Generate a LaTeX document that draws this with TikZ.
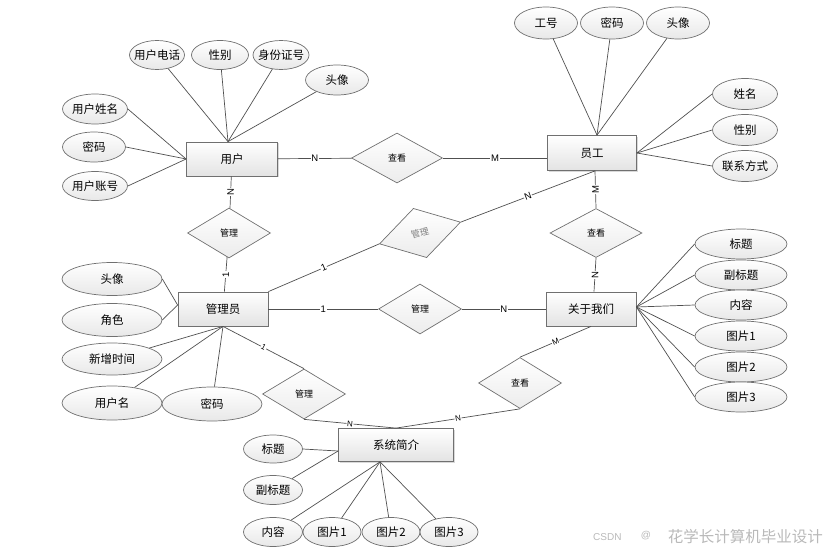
\documentclass[tikz,border=0pt]{standalone}
\usepackage{fontspec}
\setmainfont{Noto Sans CJK SC}
\newfontfamily\lat{Liberation Sans}
\usetikzlibrary{shapes.geometric,shadows}
\newcommand\zt[1]{\makebox[0pt]{#1}}
\definecolor{bd}{HTML}{707070}
\definecolor{ln}{HTML}{505050}
\begin{document}
\begin{tikzpicture}[x=1pt,y=-1pt,
  ent/.style={rectangle, draw=bd, line width=0.8pt, top color=white, bottom color=gray!22,
    drop shadow={shadow xshift=1.2pt, shadow yshift=-1.2pt, opacity=0.3}, inner sep=0,
    font=\fontsize{11.5}{13}\selectfont},
  attr/.style={ellipse, draw=bd, line width=0.7pt, top color=white, bottom color=gray!18,
    inner sep=0, font=\fontsize{11.5}{13}\selectfont},
  rel/.style={diamond, draw=bd, line width=0.7pt, top color=white, bottom color=gray!15,
    inner sep=0, font=\fontsize{9}{10}\selectfont},
  conn/.style={draw=ln, line width=0.7pt},
  lbl/.style={fill=white, inner sep=0.6pt, font=\lat\fontsize{9.5}{10}\selectfont, text=black},
  slbl/.style={lbl, font=\lat\fontsize{8}{9}\selectfont}]
\useasboundingbox (0,0) rectangle (835,554);

% entities
\node[ent, minimum width=91, minimum height=34] (u) at (232,159) {用户};
\node[ent, minimum width=89, minimum height=35] (emp) at (592,153) {员工};
\node[ent, minimum width=90, minimum height=34] (mgr) at (223,309) {管理员};
\node[ent, minimum width=90, minimum height=34] (about) at (591,309) {关于我们};
\node[ent, minimum width=115, minimum height=33] (sys) at (396,445) {系统简介};

% relations
\node[rel, minimum width=91, minimum height=50] (r1) at (397,158) {查看};
\node[rel, minimum width=83, minimum height=50] (m1) at (229,233) {管理};
\node[rel, rotate=15, text=gray, minimum width=84, minimum height=51] (tilt) at (420,233) {管理};
\node[rel, minimum width=92, minimum height=49] (r2) at (596,233) {查看};
\node[rel, minimum width=83, minimum height=50] (m3) at (420,309) {管理};
\node[rel, minimum width=83, minimum height=50] (m4) at (304,394) {管理};
\node[rel, minimum width=83, minimum height=51] (r3) at (520,383) {查看};

% user attributes
\node[attr, minimum width=55, minimum height=29] (ua1) at (157,55) {\zt{用户电话}};
\node[attr, minimum width=57, minimum height=29] (ua2) at (220,55) {\zt{性别}};
\node[attr, minimum width=56, minimum height=29] (ua3) at (281,55) {\zt{身份证号}};
\node[attr, minimum width=63, minimum height=30] (ua4) at (337,80) {\zt{头像}};
\node[attr, minimum width=65, minimum height=30] (ua5) at (95,109) {\zt{用户姓名}};
\node[attr, minimum width=63, minimum height=30] (ua6) at (94,147) {\zt{密码}};
\node[attr, minimum width=65, minimum height=29] (ua7) at (95,186) {\zt{用户账号}};

% employee attributes
\node[attr, minimum width=63, minimum height=32] (ea1) at (546,23) {\zt{工号}};
\node[attr, minimum width=63, minimum height=32] (ea2) at (612,23) {\zt{密码}};
\node[attr, minimum width=63, minimum height=32] (ea3) at (678,23) {\zt{头像}};
\node[attr, minimum width=65, minimum height=31] (ea4) at (745,94) {\zt{姓名}};
\node[attr, minimum width=65, minimum height=31] (ea5) at (745,130) {\zt{性别}};
\node[attr, minimum width=65, minimum height=31] (ea6) at (745,166) {\zt{联系方式}};

% admin attributes
\node[attr, minimum width=100, minimum height=33] (ma1) at (112,279) {\zt{头像}};
\node[attr, minimum width=100, minimum height=33] (ma2) at (112,320) {\zt{角色}};
\node[attr, minimum width=100, minimum height=32] (ma3) at (112,359) {\zt{新增时间}};
\node[attr, minimum width=100, minimum height=34] (ma4) at (112,403) {\zt{用户名}};
\node[attr, minimum width=100, minimum height=34] (ma5) at (212,404) {\zt{密码}};

% about attributes
\node[attr, minimum width=92, minimum height=30] (aa1) at (741,244) {\zt{标题}};
\node[attr, minimum width=92, minimum height=30] (aa2) at (741,275) {\zt{副标题}};
\node[attr, minimum width=92, minimum height=30] (aa3) at (741,305) {\zt{内容}};
\node[attr, minimum width=92, minimum height=30] (aa4) at (741,336) {\zt{图片1}};
\node[attr, minimum width=92, minimum height=30] (aa5) at (741,367) {\zt{图片2}};
\node[attr, minimum width=92, minimum height=30] (aa6) at (741,397) {\zt{图片3}};

% system attributes
\node[attr, minimum width=59, minimum height=28] (sa1) at (273,449) {\zt{标题}};
\node[attr, minimum width=59, minimum height=29] (sa2) at (273,490) {\zt{副标题}};
\node[attr, minimum width=59, minimum height=29] (sa3) at (273,532) {\zt{内容}};
\node[attr, minimum width=58, minimum height=29] (sa4) at (332,532) {\zt{图片1}};
\node[attr, minimum width=58, minimum height=29] (sa5) at (391,532) {\zt{图片2}};
\node[attr, minimum width=58, minimum height=29] (sa6) at (449,532) {\zt{图片3}};

% attribute connectors
\foreach \a in {ua1,ua2,ua3,ua4} \draw[conn] (\a) -- ([xshift=-4pt]u.north);
\foreach \a in {ua5,ua6,ua7} \draw[conn] (\a.east) -- (u.west);
\foreach \a in {ea1,ea2,ea3} \draw[conn] (\a) -- ([xshift=5pt]emp.north);
\foreach \a in {ea4,ea5,ea6} \draw[conn] (\a.west) -- (emp.east);
\foreach \a in {ma1,ma2} \draw[conn] (\a.east) -- ([yshift=4pt]mgr.west);
\foreach \a in {ma3,ma4,ma5} \draw[conn] (\a) -- (mgr.south);
\foreach \a in {aa1,aa2,aa3,aa4,aa5,aa6} \draw[conn] (\a.west) -- ([yshift=2pt]about.east);
\draw[conn] (sa1.east) -- ([yshift=-6pt]sys.west);
\draw[conn] (sa2) -- ([yshift=-6pt]sys.west);
\foreach \a in {sa3,sa4,sa5,sa6} \draw[conn] (\a) -- ([xshift=-16pt]sys.south);

% relationship connectors
\draw[conn] (u) -- node[lbl]{N} (r1);
\draw[conn] (r1.east) -- node[lbl]{M} (r1.east -| emp.west);
\draw[conn] (u) -- node[lbl, rotate=90]{N} (m1);
\draw[conn] (m1) -- node[lbl, rotate=90]{1} (mgr);
\draw[conn] (mgr.north east) -- node[lbl, sloped]{1} (tilt.west);
\draw[conn] (tilt.east) -- node[lbl, sloped]{N} ([xshift=3pt]emp.south);
\draw[conn] ([xshift=3pt]emp.south) -- node[lbl, rotate=90]{M} (r2.north);
\draw[conn] (r2.south) -- node[lbl, rotate=90]{N} ([xshift=3pt]about.north);
\draw[conn] (mgr) -- node[lbl]{1} (m3);
\draw[conn] (m3) -- node[lbl]{N} (about);
\draw[conn] (mgr.south) -- node[slbl, sloped]{1} (m4.north);
\draw[conn] (m4.south) -- node[slbl, sloped]{N} (sys.north);
\draw[conn] (sys.north) -- node[slbl, sloped]{N} (r3.south);
\draw[conn] (r3.north) -- node[slbl, sloped]{M} (about.south);

% watermark
\node[anchor=west, text=gray!55, inner sep=0, font=\lat\fontsize{10}{12}\selectfont] (wm1) at (593,537) {CSDN};
\node[text=gray!55, inner sep=0, font=\lat\fontsize{10}{12}\selectfont] (wm2) at (646,536) {@};
\node[anchor=east, text=gray!55, inner sep=0, font=\fontsize{15.5}{17}\selectfont] (wm3) at (823,537) {花学长计算机毕业设计};
\end{tikzpicture}
\end{document}
